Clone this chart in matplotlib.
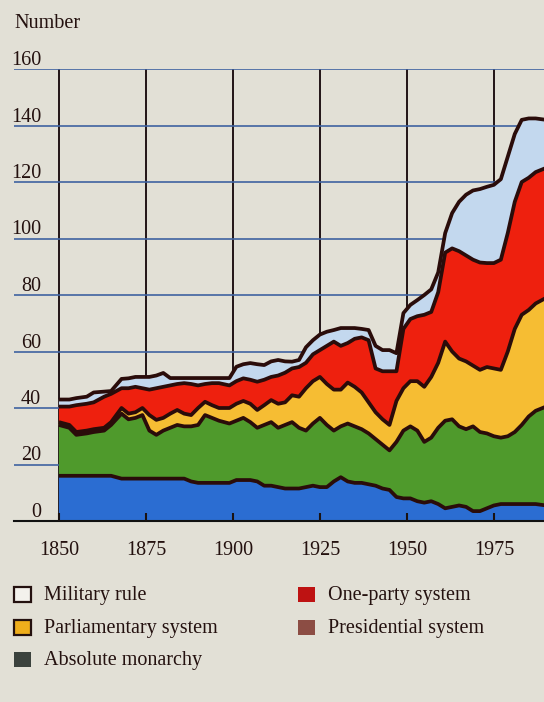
import numpy as np
import matplotlib
matplotlib.use("Agg")
import matplotlib.pyplot as plt
from matplotlib.patches import Rectangle
from matplotlib.transforms import blended_transform_factory, offset_copy

# Number of states by form of government, 1850-1990
years = [1850, 1853, 1855, 1858, 1860, 1863, 1865, 1868, 1870, 1872, 1874, 1876,
         1878, 1880, 1882, 1884, 1886, 1888, 1890, 1892, 1894, 1896, 1899, 1901,
         1903, 1905, 1907, 1909, 1911, 1913, 1915, 1917, 1919, 1921, 1923, 1925,
         1927, 1929, 1931, 1933, 1935, 1937, 1939, 1941, 1943, 1945, 1947, 1949,
         1951, 1953, 1955, 1957, 1959, 1961, 1963, 1965, 1967, 1969, 1971, 1973,
         1975, 1977, 1979, 1981, 1983, 1985, 1987, 1990]

absolute_monarchy = [16, 16, 16, 16, 16, 16, 16, 15, 15, 15, 15, 15,
                     15, 15, 15, 15, 15, 14, 13.5, 13.5, 13.5, 13.5, 13.5, 14.5,
                     14.5, 14.5, 14, 12.5, 12.5, 12, 11.5, 11.5, 11.5, 12, 12.5, 12,
                     12, 14, 15.5, 14, 13.5, 13.5, 13, 12.5, 11.5, 11, 8.5, 8,
                     8, 7, 6.5, 7, 6, 4.5, 5, 5.5, 5, 3.5, 3.5, 4.5,
                     5.5, 6, 6, 6, 6, 6, 6, 5.5]

presidential = [18, 17, 14.5, 15, 15.5, 16, 18, 23, 21, 21.5, 22.5, 17,
                15.5, 17, 18, 19, 18.5, 19.5, 20.5, 24, 23, 22, 21, 21,
                22, 20.5, 19, 21.5, 22.5, 21, 22.5, 23.5, 21.5, 20, 22, 24.5,
                22, 18, 18, 20.5, 20, 19, 18, 16.5, 15.5, 14, 19.5, 24,
                25.5, 25, 21.5, 22.5, 27, 31, 31, 28, 27.5, 30, 28, 26.5,
                24.5, 23.5, 24, 25.5, 28, 31, 33, 35]

parliamentary = [1, 1, 1, 1, 1, 1, 1, 2, 2, 2, 2.5, 5.5,
                 5.3, 4.5, 5, 5.3, 4.5, 4, 6, 4.7, 4.5, 4.5, 5.5, 6,
                 6, 6.5, 6.3, 7, 7.8, 8.5, 8, 9.5, 11, 15, 15, 14.5,
                 14.5, 14.5, 13, 14.5, 14, 13, 11, 9.5, 9, 9, 14.5, 15,
                 16, 17.5, 19.5, 21.5, 23, 28, 24, 24, 24, 21.5, 22, 23.5,
                 24, 24, 30, 36.5, 39, 37.7, 38, 38.5]

one_party = [5.5, 6.5, 9.5, 9.5, 9.5, 11, 10, 7, 9, 9, 7, 9,
             11.2, 11, 10, 9.2, 10.8, 11, 8, 6.3, 7.8, 8.8, 8, 8,
             8, 8.5, 10, 9, 8.2, 10, 10.5, 9.5, 10.5, 9, 9.5, 9.5,
             13.5, 17, 15.5, 14, 17, 19.5, 22, 15.5, 17, 19, 10.5, 21,
             22, 23, 25.5, 23, 25, 31.5, 36.5, 38, 37.5, 37.5, 38, 36.8,
             37.3, 39, 42, 45, 47, 46.8, 46.5, 46]

military_rule = [2.5, 2.5, 2.5, 2.5, 3.5, 1.8, 1, 3.3, 3.5, 3.5, 4, 4.5,
                 4.5, 4.9, 2.6, 2.1, 1.8, 2.1, 2.6, 2.1, 1.8, 1.8, 2.6, 5.1,
                 5, 5.9, 6.2, 5.2, 5.5, 5.5, 4, 2.4, 2.5, 5.5, 5, 5.5,
                 5, 4.1, 6.3, 5.3, 3.8, 3, 3.6, 8, 7.5, 7.5, 6.4, 5.6,
                 5, 5.7, 7, 8, 7, 6.9, 12.5, 17.5, 21.5, 24.5, 26, 27,
                 27.7, 28.5, 27, 24, 22, 21, 19, 17]

year_ticks = [1850, 1875, 1900, 1925, 1950, 1975]
value_ticks = [0, 20, 40, 60, 80, 100, 120, 140, 160]

layers = [absolute_monarchy, presidential, parliamentary, one_party, military_rule]
layer_colors = ["#2b6dd2", "#4f9a2c", "#f6bd33", "#ee200e", "#c3d8ee"]

legend_items = [
    ("Military rule", "#f3f1ec", True, 0, 0),
    ("Parliamentary system", "#efae1c", True, 0, 1),
    ("Absolute monarchy", "#3b423d", False, 0, 2),
    ("One-party system", "#be1212", False, 1, 0),
    ("Presidential system", "#8c4d44", False, 1, 1),
]

BG = "#e2e0d6"
INK = "#24110f"
OUTLINE = "#2a0c0a"
W, H = 544, 702
FONT = ["Liberation Serif", "DejaVu Serif"]
FS = 14.5

plt.rcParams["font.family"] = FONT

fig = plt.figure(figsize=(W / 100, H / 100), dpi=100, facecolor=BG)
ax = fig.add_axes([14 / W, (H - 521) / H, 530 / W, (521 - 69) / H])
ax.set_facecolor(BG)
ax.set_xlim(1837.1, 1989.4)
ax.set_ylim(0, 160)

# grid: dark verticals at the labelled years, bluish horizontals
for yr in year_ticks:
    ax.plot([yr, yr], [0, 160], color="#211416", lw=1.4, zorder=0.5)
for v in value_ticks[1:]:
    ax.axhline(v, color="#3f62a0", lw=1.2, zorder=0.5)

# stacked areas
ax.stackplot(years, *layers, colors=layer_colors, edgecolor="none",
             linewidth=0, zorder=1)

# dark outline along the top of every layer
running = np.cumsum(np.array(layers, dtype=float), axis=0)
for level in running:
    ax.plot(years, level, color=OUTLINE, lw=2.7, solid_joinstyle="round",
            solid_capstyle="butt", zorder=2)

# axes decoration
for side in ("left", "right", "top"):
    ax.spines[side].set_visible(False)
ax.spines["bottom"].set_color("#111111")
ax.spines["bottom"].set_linewidth(1.5)
ax.set_axisbelow(False)
ax.set_xticks(year_ticks)
ax.set_xticklabels([str(y) for y in year_ticks], fontsize=FS, color=INK)
ax.tick_params(axis="x", direction="in", length=6, width=1.5,
               color="#1a1212", pad=14.5)
ax.set_yticks([])

# value labels sit just above their gridlines, right-aligned
trans = blended_transform_factory(ax.transAxes, ax.transData)
trans = offset_copy(trans, fig=fig, x=0, y=4, units="dots")
for v in value_ticks:
    ax.text((41 - 14) / 530, v, str(v), transform=trans, ha="right",
            va="baseline", fontsize=FS, color=INK)

fig.text(14 / W, 1 - 28 / H, "Number", ha="left", va="baseline",
         fontsize=FS, color=INK)

# legend
col_x = [14, 298]
row_y = [587, 620, 652]
for label, color, framed, col, row in legend_items:
    x0, y0 = col_x[col], row_y[row]
    fig.patches.append(Rectangle((x0 / W, 1 - (y0 + 15) / H), 17 / W, 15 / H,
                                 transform=fig.transFigure,
                                 facecolor=color,
                                 edgecolor=INK if framed else color,
                                 linewidth=1.6 if framed else 0))
    fig.text((x0 + 30) / W, 1 - (y0 + 13) / H, label, ha="left",
             va="baseline", fontsize=FS, color=INK)

fig.savefig("out.png", dpi=100, facecolor=BG)
